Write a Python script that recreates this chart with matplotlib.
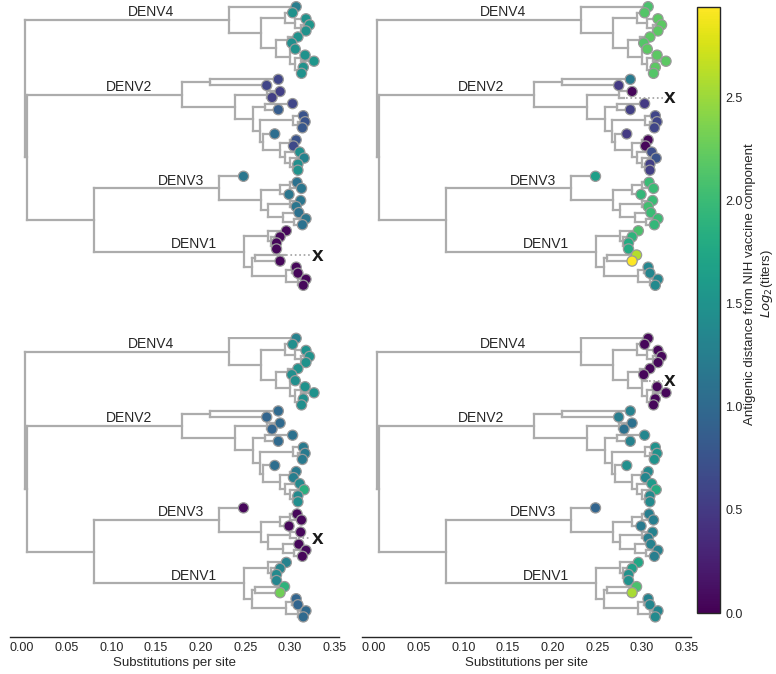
import numpy as np
import matplotlib
matplotlib.use("Agg")
import matplotlib.pyplot as plt
from matplotlib.collections import LineCollection
from matplotlib.colors import Normalize

plt.rcParams['font.family'] = ['Liberation Sans', 'DejaVu Sans']

# shared dengue E-gene tree (branch lengths in substitutions per site), tips listed top to bottom
denv4_newick = ("(D4_01:0.075,((D4_02:0.009,(D4_03:0.012,(D4_04:0.010,D4_05:0.006):0.006):0.012):0.026,"
                "((D4_06:0.011,D4_07:0.004):0.014,(D4_08:0.006,((D4_09:0.005,D4_10:0.015):0.006,"
                "(D4_11:0.005,D4_12:0.003):0.004):0.006):0.016):0.016):0.036)DENV4:0.229")
denv2_newick = ("((D2_01:0.076,D2_02:0.063):0.032,((D2_03:0.015,D2_04:0.006):0.036,((D2_05:0.031,D2_06:0.015):0.013,"
                "((D2_07:0.011,(D2_08:0.008,D2_09:0.005):0.005):0.038,(D2_10:0.013,((D2_11:0.007,D2_12:0.004):0.011,"
                "(D2_13:0.017,(D2_14:0.016,(D2_15:0.005,D2_16:0.005):0.004):0.006):0.005):0.019):0.004):0.007):0.021):0.059)DENV2:0.173")
denv3_newick = ("(D3_01:0.027,(((D3_02:0.008,D3_03:0.013):0.011,D3_04:0.010):0.021,((D3_05:0.012,D3_06:0.007):0.024,"
                "(D3_07:0.018,(D3_08:0.013,D3_09:0.009):0.013):0.016):0.008):0.047)DENV3:0.140")
denv1_newick = ("((D1_01:0.020,(D1_02:0.010,(D1_03:0.004,D1_04:0.004):0.002):0.003):0.027,((D1_05:0.033,D1_06:0.028):0.004,"
                "((D1_07:0.005,D1_08:0.007):0.006,(D1_09:0.009,D1_10:0.006):0.013):0.039):0.008)DENV1:0.168")
tree_newick = "(" + denv4_newick + ",(" + denv2_newick + ",(" + denv3_newick + "," + denv1_newick + "):0.075):0.003):0.003;"

# one panel per NIH vaccine component
panel_serotypes = ['DENV1', 'DENV2', 'DENV3', 'DENV4']
vaccine_tips = ['D1_05', 'D2_04', 'D3_06', 'D4_08']

# antigenic distance (log2 titers) of every tip from the panel's vaccine strain, same tip order as the tree
# order: DENV4 (12), DENV2 (16), DENV3 (9), DENV1 (10); None = the vaccine strain itself
dist_from_denv1 = [1.25, 1.5, 1.5, 1.55, 1.5, 1.5, 1.45, 1.5, 1.5, 1.55, 1.5, 1.5,
                   0.6, 0.6, 0.55, 0.55, 0.6, 0.85, 0.75, 0.75, 0.8, 1.05, 0.75, 0.65, 1.45, 1.3, 1.45, 1.5,
                   1.15, 1.1, 1.15, 1.15, 1.15, 1.15, 1.1, 1.15, 1.1,
                   0.05, 0.05, 0.05, 0.05, None, 0.05, 0.05, 0.05, 0.05, 0.05]
dist_from_denv2 = [2.1, 2.15, 2.2, 2.2, 2.2, 2.2, 2.15, 2.2, 2.2, 2.2, 2.2, 2.15,
                   1.2, 0.5, 0.05, None, 0.5, 0.55, 0.6, 0.6, 0.6, 0.5, 0.05, 0.05, 0.7, 0.75, 0.55, 0.55,
                   1.65, 2.0, 2.0, 1.95, 2.0, 2.05, 2.0, 2.0, 1.95,
                   2.1, 1.9, 1.8, 1.8, 2.6, 2.94, 1.35, 1.35, 1.35, 1.4]
dist_from_denv3 = [1.3, 1.45, 1.5, 1.5, 1.5, 1.5, 1.45, 1.45, 1.5, 1.5, 1.45, 1.45,
                   1.0, 0.95, 1.0, 0.95, 1.1, 1.0, 1.2, 1.2, 1.2, 1.05, 1.2, 1.25, 1.4, 1.85, 1.4, 1.45,
                   0.05, 0.05, 0.05, 0.05, 0.05, None, 0.05, 0.08, 0.05,
                   1.3, 1.35, 1.4, 1.35, 1.9, 2.3, 0.95, 0.95, 1.0, 1.0]
dist_from_denv4 = [0.05, 0.05, 0.05, 0.05, 0.05, 0.05, 0.05, None, 0.05, 0.05, 0.05, 0.05,
                   1.3, 1.25, 1.1, 1.1, 1.35, 1.3, 1.5, 1.5, 1.5, 1.45, 1.4, 1.35, 1.6, 1.8, 1.4, 1.4,
                   0.95, 1.25, 1.25, 1.2, 1.3, 1.25, 1.3, 1.3, 1.25,
                   1.75, 1.65, 1.5, 1.5, 2.1, 2.55, 1.3, 1.35, 1.35, 1.4]
panel_distances = [dist_from_denv1, dist_from_denv2, dist_from_denv3, dist_from_denv4]

xticks = [0.00, 0.05, 0.10, 0.15, 0.20, 0.25, 0.30, 0.35]
cbar_ticks = [0.0, 0.5, 1.0, 1.5, 2.0, 2.5]


def parse_newick(s):
    pos = 0

    def parse_node():
        nonlocal pos
        node = {'children': [], 'name': '', 'length': 0.0, 'parent': None}
        if s[pos] == '(':
            pos += 1
            while True:
                child = parse_node()
                child['parent'] = node
                node['children'].append(child)
                if s[pos] == ',':
                    pos += 1
                else:
                    break
            pos += 1
        start = pos
        while s[pos] not in ',():;':
            pos += 1
        node['name'] = s[start:pos]
        if s[pos] == ':':
            pos += 1
            start = pos
            while s[pos] not in ',();':
                pos += 1
            node['length'] = float(s[start:pos])
        return node

    return parse_node()


root = parse_newick(tree_newick)
tips = []
nodes = []


def layout(node, x0):
    node['x'] = x0 + node['length']
    nodes.append(node)
    if node['children']:
        for c in node['children']:
            layout(c, node['x'])
        node['y'] = (node['children'][0]['y'] + node['children'][-1]['y']) / 2
    else:
        node['y'] = len(tips)
        tips.append(node)


layout(root, 0.0)

segs = []
for n in nodes:
    for c in n['children']:
        segs.append([(n['x'], c['y']), (c['x'], c['y'])])
    if n['children']:
        segs.append([(n['x'], n['children'][0]['y']), (n['x'], n['children'][-1]['y'])])

tip_x = np.array([t['x'] for t in tips])
tip_y = np.array([t['y'] for t in tips])
tip_names = [t['name'] for t in tips]

all_vals = [v for d in panel_distances for v in d if v is not None]
norm = Normalize(vmin=0, vmax=max(all_vals))
cmap = plt.get_cmap('viridis')

W, H = 776, 674
fig = plt.figure(figsize=(W / 100, H / 100), dpi=100)


def px_axes(left, top, width, height):
    return fig.add_axes([left / W, 1 - (top + height) / H, width / W, height / H])


boxes = [(10, 5.1), (362, 5.1), (10, 336.7), (362, 336.7)]
text_col = '#262626'

for i, (left, top) in enumerate(boxes):
    ax = px_axes(left, top, 329, 300)
    ax.add_collection(LineCollection(segs, colors='#acacac', linewidths=1.6,
                                     capstyle='projecting', zorder=1))
    vals = np.array([np.nan if v is None else v for v in panel_distances[i]])
    shown = ~np.isnan(vals)
    ax.scatter(tip_x[shown], tip_y[shown], c=vals[shown], cmap=cmap, norm=norm,
               s=54, edgecolors='#9a9a9a', linewidths=0.9, zorder=3, clip_on=False)

    vt = tips[tip_names.index(vaccine_tips[i])]
    ax.plot([vt['x'] + 0.002, 0.324], [vt['y'], vt['y']], ls=':', color='#a0a0a0', lw=1.2, zorder=2)
    ax.text(0.331, vt['y'], 'x', fontsize=15, fontweight='bold', color='#1a1a1a',
            ha='center', va='center')

    for n in nodes:
        if n['name'].startswith('DENV'):
            xm = (n['parent']['x'] + n['x']) / 2 + 0.027
            ax.annotate(n['name'], (xm, n['y']), xytext=(0, 0.5), textcoords='offset points',
                        ha='center', va='bottom', fontsize=10, color=text_col)

    ax.set_xlim(-0.0135, 0.355)
    ax.set_ylim(49.27, -0.264)
    ax.set_yticks([])
    for sp in ['top', 'right', 'left']:
        ax.spines[sp].set_visible(False)
    if i >= 2:
        ax.spines['bottom'].set_color('#262626')
        ax.spines['bottom'].set_linewidth(1.0)
        ax.set_xticks(xticks)
        ax.set_xticklabels([f'{t:.2f}' for t in xticks])
        ax.tick_params(axis='x', length=0, pad=4, labelsize=9, labelcolor=text_col)
        ax.set_xlabel('Substitutions per site', fontsize=9.5, color=text_col, labelpad=2)
    else:
        ax.spines['bottom'].set_visible(False)
        ax.set_xticks([])

cax = px_axes(697, 7, 23, 606)
sm = plt.cm.ScalarMappable(norm=norm, cmap=cmap)
cb = fig.colorbar(sm, cax=cax)
cb.set_ticks(cbar_ticks)
cb.ax.tick_params(length=0, pad=4, labelsize=9, labelcolor=text_col)
cb.outline.set_linewidth(1.0)
cb.outline.set_edgecolor('#262626')
cb.set_label('Antigenic distance from NIH vaccine component\n$Log_2$(titers)',
             fontsize=9.5, color=text_col, labelpad=1, y=0.543)

fig.savefig('out.png', dpi=100)
